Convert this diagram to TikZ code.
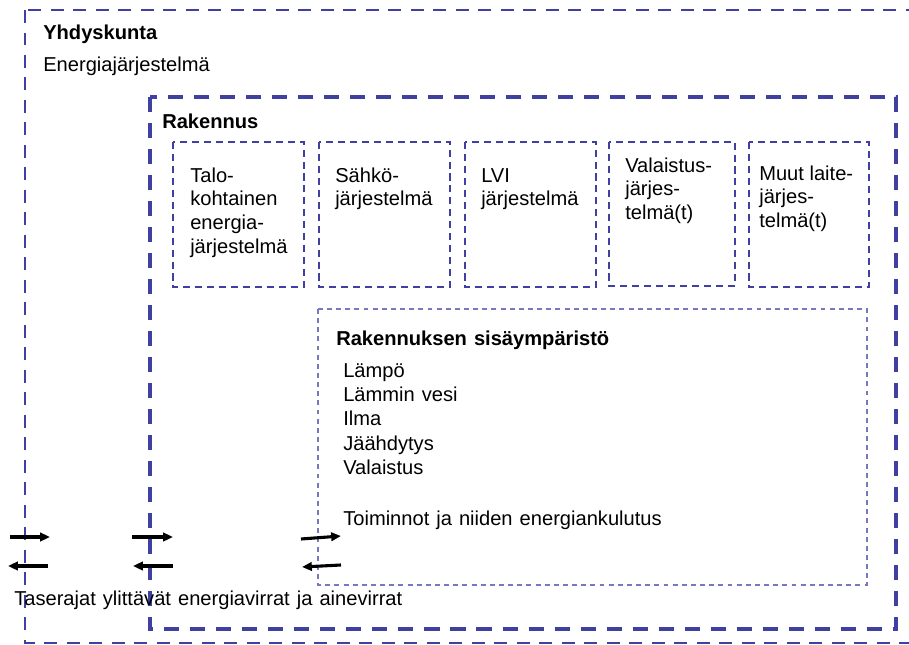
\documentclass[tikz,border=0pt]{standalone}
\usepackage{fontspec}
\setmainfont{Liberation Sans}
\usetikzlibrary{arrows.meta}
\definecolor{navy}{RGB}{64,64,160}
\definecolor{lightnavy}{RGB}{120,120,192}
\newcommand{\wgap}{\hspace{5pt}}
\newcommand{\lines}[1]{\begin{tabular}[t]{@{}l@{}}#1\end{tabular}}

\begin{document}
\begin{tikzpicture}[x=0.025cm, y=-0.025cm,
  outerbox/.style={draw=navy, line width=2.1pt, dash pattern=on 9pt off 7pt},
  bldbox/.style={draw=navy, line width=2.5pt, dash pattern=on 10.7pt off 7.8pt},
  subbox/.style={draw=navy, line width=1.1pt, dash pattern=on 5pt off 3.5pt},
  envbox/.style={draw=lightnavy, line width=0.8pt, dash pattern=on 3.5pt off 3pt},
  lbl/.style={anchor=base west, inner sep=0pt,
    font=\fontsize{14.3}{17}\selectfont},
  hdr/.style={lbl, font=\fontsize{14.3}{17}\selectfont\bfseries},
  flow/.style={-{Triangle[length=7pt,width=6pt]}, line width=2.2pt}]
  \useasboundingbox (0,0) rectangle (909,645);
  \clip (0,0) rectangle (909,645);

  %% Community and building boundaries
  \draw[outerbox] (25,10) rectangle (930,643);
  \draw[bldbox]   (150,97) rectangle (896,629);

  \node[hdr] (yhd) at (43,39) {Yhdyskunta};
  \node[lbl] (ejs) at (43,71) {Energiajärjestelmä};
  \node[hdr] (rak) at (162,128) {Rakennus};

  %% Technical systems of the building
  \draw[subbox] (173,142) rectangle (304,287);
  \draw[subbox] (319,142) rectangle (450,287);
  \draw[subbox] (465,142) rectangle (596,287);
  \draw[subbox] (609,142) rectangle (735,286);
  \draw[subbox] (749,142) rectangle (869,287);

  \node[lbl] (talo) at (190,182)
    {\lines{Talo-\\kohtainen\\energia-\\järjestelmä}};
  \node[lbl] (sahko) at (335,182) {\lines{Sähkö-\\järjestelmä}};
  \node[lbl] (lvi) at (481,182) {\lines{LVI\\järjestelmä}};
  \node[lbl] (valo) at (625,172) {\lines{Valaistus-\\järjes-\\telmä(t)}};
  \node[lbl] (muut) at (759,180) {\lines{Muut laite-\\järjes-\\telmä(t)}};

  %% Indoor environment
  \draw[envbox] (318,309) rectangle (867,585);
  \node[hdr] (sis) at (336,345) {Rakennuksen\wgap sisäympäristö};
  \node[lbl, font=\fontsize{14.3}{17.4}\selectfont] (tarpeet) at (343,377)
    {\lines{Lämpö\\Lämmin\wgap vesi\\Ilma\\Jäähdytys\\Valaistus}};
  \node[lbl] (toim) at (343,525) {Toiminnot\wgap ja\wgap niiden\wgap energiankulutus};

  %% Flows across the balance boundaries
  \coordinate (a1) at (10,537);  \coordinate (b1) at (50,537);
  \coordinate (a2) at (132,537); \coordinate (b2) at (173,537);
  \coordinate (a3) at (301,539); \coordinate (b3) at (341,536);
  \coordinate (c1) at (48,566);  \coordinate (d1) at (8,566);
  \coordinate (c2) at (173,566); \coordinate (d2) at (133,566);
  \coordinate (c3) at (341,565); \coordinate (d3) at (302,567);
  \draw[flow] (a1) -- (b1);
  \draw[flow] (a2) -- (b2);
  \draw[flow] (a3) -- (b3);
  \draw[flow] (c1) -- (d1);
  \draw[flow] (c2) -- (d2);
  \draw[flow] (c3) -- (d3);

  \node[lbl] (tase) at (14,605)
    {Taserajat\wgap ylittävät\wgap energiavirrat\wgap ja\wgap ainevirrat};
\end{tikzpicture}
\end{document}
